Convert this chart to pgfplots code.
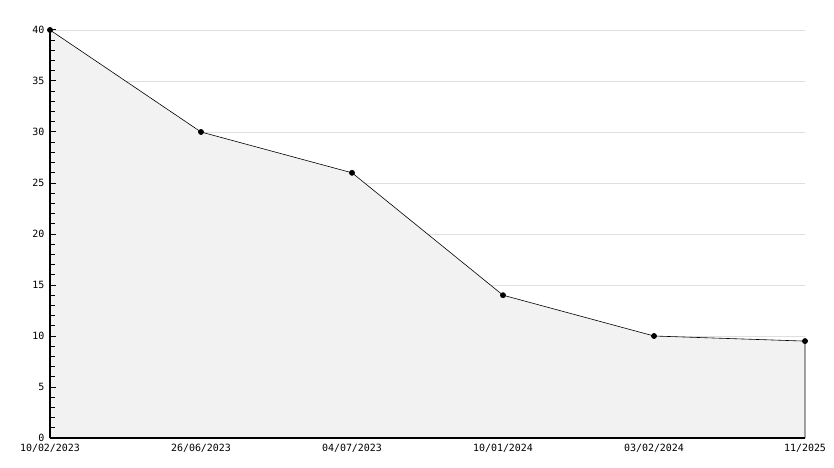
\documentclass[border=0pt]{standalone}
\usepackage{pgfplots}
\pgfplotsset{compat=1.18}
\usepackage{fontspec}
\setmainfont{DejaVu Sans Mono}
% fill goes above the grid but below the ticks and axis lines
\pgfplotsset{
    layers/fill mid/.define layer set={
        axis background,axis grid,pre main,main,axis ticks,axis lines,
        axis tick labels,axis descriptions,axis foreground
    }{
        grid style={/pgfplots/on layer=axis grid},
        tick style={/pgfplots/on layer=axis ticks},
        axis line style={/pgfplots/on layer=axis lines},
        label style={/pgfplots/on layer=axis descriptions},
        legend style={/pgfplots/on layer=axis descriptions},
        title style={/pgfplots/on layer=axis descriptions},
        tick label style={/pgfplots/on layer=axis tick labels},
        axis background@ style={/pgfplots/on layer=axis background},
    },
}
\begin{document}
\begin{tikzpicture}
\begin{axis}[
    name=ax,
    set layers=fill mid,
    at={(0,0)}, anchor=south west,
    scale only axis,
    width=755bp, height=408bp,
    xmin=0, xmax=5, ymin=0, ymax=40,
    axis x line*=bottom, axis y line*=left,
    axis line style={line width=1.2pt},
    xtick=data,
    xticklabels={10/02/2023,26/06/2023,04/07/2023,10/01/2024,03/02/2024,11/2025},
    ytick={0,5,...,40},
    minor ytick={1,2,3,4,6,7,8,9,11,12,13,14,16,17,18,19,21,22,23,24,26,27,28,29,31,32,33,34,36,37,38,39},
    every tick/.append style={black, line width=1pt},
    major x tick style={draw=none},
    tick align=inside,
    major tick length=6bp, minor tick length=5bp,
    ymajorgrids=true,
    grid style={gray!25, line width=0.6pt},
    tick label style={font=\fontsize{10}{12}\selectfont},
    /pgf/number format/assume math mode=true,
    xticklabel style={yshift=-3bp},
    yticklabel style={xshift=-2bp},
    clip=false,
]
\addplot[draw=black, line width=0.6pt, fill=gray!10, mark=*, mark size=2.6pt,
    mark options={fill=black}] coordinates {
    (0,40) (1,30) (2,26) (3,14) (4,10) (5,9.5)
} \closedcycle;
\end{axis}
\pgfresetboundingbox
\path[use as bounding box] ([shift={(-50bp,-30bp)}]ax.south west) rectangle ([shift={(784bp,438bp)}]ax.south west);
\end{tikzpicture}
\end{document}
